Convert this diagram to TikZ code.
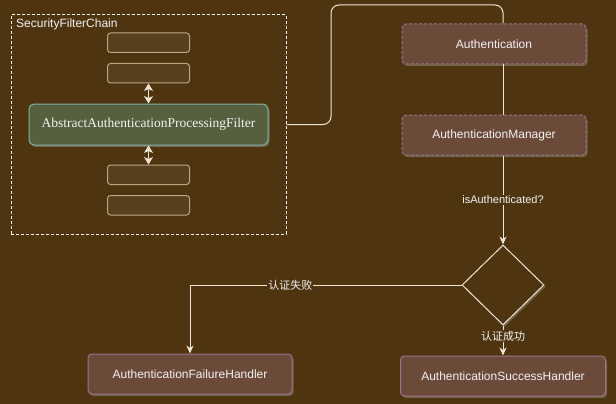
\documentclass[tikz,border=0pt]{standalone}
\usepackage{fontspec}
\setmainfont{Liberation Sans}
\newfontfamily\timesfont{Liberation Serif}
\newfontfamily\cjk{Noto Sans CJK SC}
\usetikzlibrary{positioning, shapes.geometric, arrows.meta, shadows}
\definecolor{bgbrown}{HTML}{4E3510}
\definecolor{boxfill}{HTML}{6B4A3A}
\definecolor{boxline}{HTML}{9C7290}
\definecolor{greenfill}{HTML}{56603F}
\definecolor{greenline}{HTML}{7FB3A3}
\definecolor{smallfill}{HTML}{58401E}
\definecolor{smallline}{HTML}{BBA585}
\definecolor{linecol}{HTML}{EDE5D5}
\definecolor{textwhite}{HTML}{F2F2F2}
\definecolor{shadowgrey}{HTML}{7A6E55}

\begin{document}
\begin{tikzpicture}[x=1pt, y=-1pt,
        every node/.style={text=textwhite},
        shade box/.style={drop shadow={shadow xshift=1.5pt, shadow yshift=-2pt, fill=shadowgrey, opacity=0.8}},
        chainframe/.style={draw=white, line width=1pt, dash pattern=on 3pt off 2pt},
        smallbox/.style={draw=smallline, fill=smallfill, line width=1pt, rounded corners=3pt, minimum width=82pt, minimum height=19.5pt},
        filterbox/.style={draw=greenline, fill=greenfill, line width=1pt, rounded corners=5pt, shade box},
        authbox/.style={draw=boxline, fill=boxfill, line width=1pt, dash pattern=on 3pt off 2pt, rounded corners=4pt, minimum width=184pt, minimum height=40pt, font=\fontsize{12}{14}\selectfont, shade box},
        handler/.style={draw=boxline, fill=boxfill, line width=1pt, rounded corners=4pt, minimum height=40pt, font=\fontsize{12}{14}\selectfont, shade box},
        decision/.style={diamond, draw=linecol, fill=bgbrown, line width=1pt, minimum width=82pt, minimum height=80pt, inner sep=0pt, shade box},
        flow/.style={draw=linecol, line width=1pt},
        arr/.style={flow, -{Stealth[length=8pt, width=7pt, inset=2.5pt]}},
        dbl/.style={flow, {Stealth[length=7.5pt, width=9pt, inset=2pt]}-{Stealth[length=7.5pt, width=9pt, inset=2pt]}},
        lbl/.style={fill=bgbrown, inner sep=1pt, font=\fontsize{11}{13}\selectfont}]
    \useasboundingbox[fill=bgbrown] (0,0) rectangle (616,404);

    \node[chainframe, minimum width=275pt, minimum height=219pt] (chain) at (148.5,124.5) {};
    \node[anchor=north west, inner sep=0pt, font=\fontsize{12}{14}\selectfont] (chainlbl) at (16,19) {SecurityFilterChain};
    \node[filterbox, minimum width=239pt, minimum height=41pt, font=\timesfont\fontsize{13.5}{16}\selectfont] (proc) at (148.5,124.5) {AbstractAuthenticationProcessingFilter};
    \node[smallbox, above=20pt of proc] (f2) {};
    \node[smallbox, above=10pt of f2] (f1) {};
    \node[smallbox, below=19pt of proc] (f3) {};
    \node[smallbox, below=10pt of f3] (f4) {};
    \draw[dbl] (f2) -- (proc);
    \draw[dbl] (proc) -- (f3);

    \node[authbox] (auth) at (494,44) {Authentication};
    \node[authbox, below=50pt of auth] (mgr) {AuthenticationManager};
    \node[decision] (dia) at (503,285) {};
    \node[handler, minimum width=204pt] (fail) at (190,374) {AuthenticationFailureHandler};
    \node[handler, minimum width=205pt, below=30pt of dia] (succ) {AuthenticationSuccessHandler};

    \coordinate (bend) at (331,5);
    \draw[flow, rounded corners=8pt] (chain.east) -| (bend) -| (auth.north -| dia.north);
    \draw[flow] (auth.south -| dia.north) -- (mgr.north -| dia.north);
    \draw[arr] (mgr.south -| dia.north) -- node[lbl] {isAuthenticated?} (dia.north);
    \draw[arr] (dia.west) -| node[lbl, pos=0.315] {\cjk 认证失败} (fail.north);
    \draw[arr] (dia.south) -- node[lbl, pos=0.35] {\cjk 认证成功} (succ.north);
\end{tikzpicture}
\end{document}
